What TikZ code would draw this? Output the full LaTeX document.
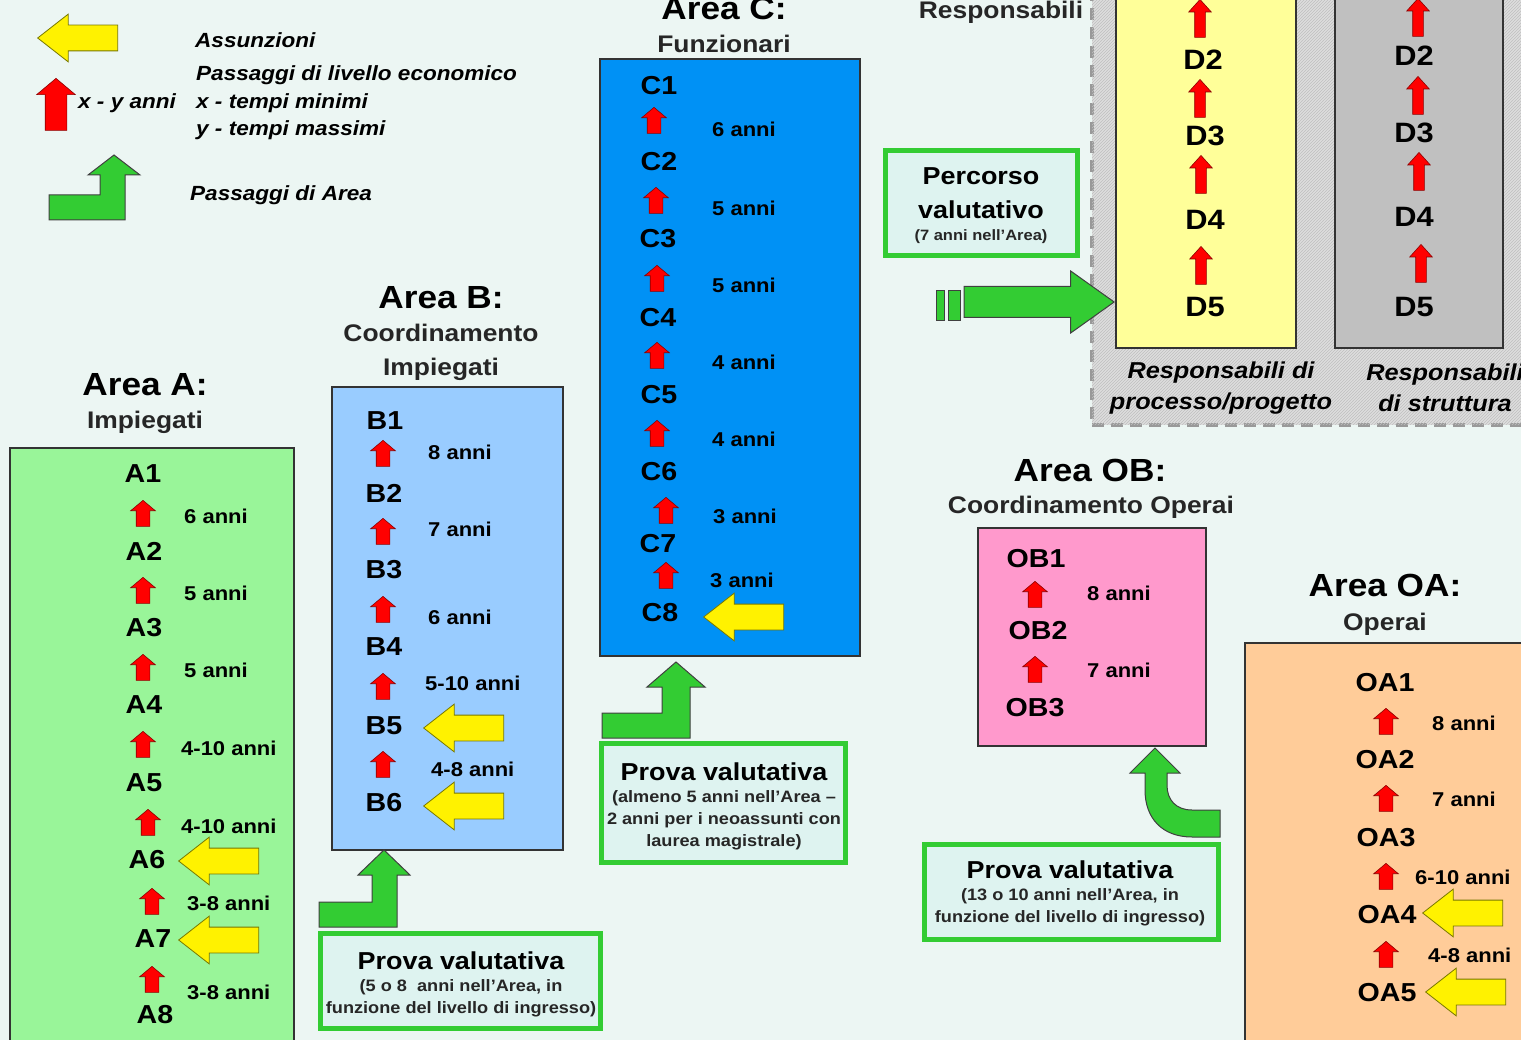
\documentclass[tikz,border=0pt]{standalone}
\usepackage{fontspec}
\setmainfont{Liberation Sans}[FakeStretch=1.1]
\usepackage{tikz}
\usetikzlibrary{shapes.arrows,patterns}
\definecolor{bgTint}{RGB}{236,246,243}
\definecolor{aFill}{RGB}{153,245,153}
\definecolor{bFill}{RGB}{153,204,255}
\definecolor{cFill}{RGB}{0,145,245}
\definecolor{obFill}{RGB}{255,153,204}
\definecolor{oaFill}{RGB}{255,204,153}
\definecolor{dYel}{RGB}{255,255,153}
\definecolor{dGray}{RGB}{192,192,192}
\definecolor{grnFill}{RGB}{51,204,51}
\definecolor{provaFill}{RGB}{222,243,240}
\definecolor{yelEdge}{RGB}{120,120,0}
\tikzset{
  lvBox/.style={draw=black!80,line width=1.4pt,inner sep=0pt},
  lvl/.style={font=\fontsize{26}{28}\selectfont\bfseries,inner sep=0pt},
  lvlD/.style={font=\fontsize{28}{30}\selectfont\bfseries,inner sep=0pt},
  yrs/.style={font=\fontsize{20}{22}\selectfont\bfseries,anchor=west,inner sep=0pt},
  hdA/.style={font=\fontsize{32}{34}\selectfont\bfseries,inner sep=0pt},
  hdS/.style={font=\fontsize{24}{26}\selectfont\bfseries,inner sep=0pt,text=black!85},
  % arrows are placed by their tip
  upR/.style={single arrow,rotate=90,anchor=tip,draw=red!55!black,fill=red,line width=.6pt,
        inner xsep=0pt,inner ysep=6.5pt,minimum height=26pt,
        single arrow head extend=5.5pt,single arrow tip angle=100},
  upD/.style={upR,minimum height=38pt,inner ysep=5pt,
        single arrow head extend=6pt,single arrow tip angle=84},
  inY/.style={single arrow,rotate=180,anchor=tip,draw=yelEdge,fill=yellow,line width=.8pt,
        inner xsep=0pt,inner ysep=12.5pt,minimum height=80pt,
        single arrow head extend=11pt,single arrow tip angle=76},
  grnArr/.style={draw=black!75,fill=grnFill,line width=1pt,line join=miter},
  provaBox/.style={draw=grnFill,line width=5pt,fill=provaFill,inner sep=0pt},
  pvT/.style={font=\fontsize{24.5}{34}\selectfont\bfseries,inner sep=0pt,align=center},
  pvS/.style={font=\fontsize{16.5}{22}\selectfont\bfseries,align=center,inner sep=0pt,text=black!85},
  lgd/.style={font=\fontsize{20.5}{27.5}\selectfont\bfseries\itshape,anchor=west,
        inner sep=0pt,align=left},
  resp/.style={font=\fontsize{23}{31}\selectfont\bfseries\itshape,align=center,inner sep=0pt},
}

\begin{document}
\begin{tikzpicture}[x=1pt,y=-1pt]
\useasboundingbox (0,0) rectangle (1521,1040);
\fill[bgTint] (0,0) rectangle (1521,1040);

% legenda
\node[inY] (lgY) at (37,38) {};
\node[lgd] (lgYt) at (195,40) {Assunzioni};
\node[upR,minimum height=52pt,inner ysep=10.5pt,single arrow head extend=8.5pt] (lgR) at (56,78) {};
\node[lgd] (lgRx) at (78,103) {x - y anni};
\node[lgd] (lgRt) at (196,103) {Passaggi di livello economico\\x - tempi minimi\\y - tempi massimi};
\draw[grnArr] (49,220) -- (49,195) -- (100,195) -- (100,175) -- (88,175) -- (114,155)
  -- (140,175) -- (125,175) -- (125,220) -- cycle;
\node[lgd] (lgGt) at (190,195) {Passaggi di Area};

% area A
\node[hdA] (hA) at (145,385) {Area A:};
\node[hdS] (sA) at (145,422) {Impiegati};
\node[lvBox,fill=aFill,minimum width=284pt,minimum height=612pt] (boxA) at (152,754) {};
\node[lvl] (a1) at (143,474) {A1};
\node[lvl] (a2) at (144,551) {A2};
\node[lvl] (a3) at (144,628) {A3};
\node[lvl] (a4) at (144,705) {A4};
\node[lvl] (a5) at (144,783) {A5};
\node[lvl] (a6) at (147,860) {A6};
\node[lvl] (a7) at (153,939) {A7};
\node[lvl] (a8) at (155,1015) {A8};
\node[upR] (ua1) at (143,500) {};
\node[upR] (ua2) at (143,577) {};
\node[upR] (ua3) at (143,654) {};
\node[upR] (ua4) at (143,731) {};
\node[upR] (ua5) at (148,809) {};
\node[upR] (ua6) at (152,888) {};
\node[upR] (ua7) at (152,966) {};
\node[yrs] (ta1) at (184,516) {6 anni};
\node[yrs] (ta2) at (184,593) {5 anni};
\node[yrs] (ta3) at (184,670) {5 anni};
\node[yrs] (ta4) at (181,748) {4-10 anni};
\node[yrs] (ta5) at (181,826) {4-10 anni};
\node[yrs] (ta6) at (187,903) {3-8 anni};
\node[yrs] (ta7) at (187,992) {3-8 anni};
\node[inY] (ya6) at (178,861) {};
\node[inY] (ya7) at (178,940) {};

% area B
\node[hdA] (hB) at (441,298) {Area B:};
\node[hdS,align=center,font=\fontsize{24}{34}\selectfont\bfseries] (sB) at (441,352) {Coordinamento\\Impiegati};
\node[lvBox,fill=bFill,minimum width=231pt,minimum height=463pt] (boxB) at (447.5,618.5) {};
\node[lvl] (b1) at (385,421) {B1};
\node[lvl] (b2) at (384,493) {B2};
\node[lvl] (b3) at (384,570) {B3};
\node[lvl] (b4) at (384,647) {B4};
\node[lvl] (b5) at (384,726) {B5};
\node[lvl] (b6) at (384,803) {B6};
\node[upR] (ub1) at (383,440) {};
\node[upR] (ub2) at (383,518) {};
\node[upR] (ub3) at (383,596) {};
\node[upR] (ub4) at (383,673) {};
\node[upR] (ub5) at (383,751) {};
\node[yrs] (tb1) at (428,452) {8 anni};
\node[yrs] (tb2) at (428,529) {7 anni};
\node[yrs] (tb3) at (428,617) {6 anni};
\node[yrs] (tb4) at (425,683) {5-10 anni};
\node[yrs] (tb5) at (431,769) {4-8 anni};
\node[inY] (yb5) at (423,728) {};
\node[inY] (yb6) at (423,806) {};

% area C
\node[hdA] (hC) at (724,8) {Area C:};
\node[hdS] (sC) at (724,44) {Funzionari};
\node[lvBox,fill=cFill,minimum width=260pt,minimum height=597pt] (boxC) at (730,357.5) {};
\node[lvl] (c1) at (659,86) {C1};
\node[lvl] (c2) at (659,162) {C2};
\node[lvl] (c3) at (658,239) {C3};
\node[lvl] (c4) at (658,318) {C4};
\node[lvl] (c5) at (659,395) {C5};
\node[lvl] (c6) at (659,472) {C6};
\node[lvl] (c7) at (658,544) {C7};
\node[lvl] (c8) at (660,613) {C8};
\node[upR] (uc1) at (654,107) {};
\node[upR] (uc2) at (656,187) {};
\node[upR] (uc3) at (657,265) {};
\node[upR] (uc4) at (657,342) {};
\node[upR] (uc5) at (657,420) {};
\node[upR] (uc6) at (666,497) {};
\node[upR] (uc7) at (666,562) {};
\node[yrs] (tc1) at (712,129) {6 anni};
\node[yrs] (tc2) at (712,208) {5 anni};
\node[yrs] (tc3) at (712,285) {5 anni};
\node[yrs] (tc4) at (712,362) {4 anni};
\node[yrs] (tc5) at (712,439) {4 anni};
\node[yrs] (tc6) at (713,516) {3 anni};
\node[yrs] (tc7) at (710,580) {3 anni};
\node[inY] (yc8) at (703,617) {};

% area D
\node[draw=black!40,line width=4pt,dash pattern=on 12pt off 7pt,fill=black!13,
  postaction={pattern=north east lines,pattern color=black!25},
  minimum width=448pt,minimum height=435pt,inner sep=0pt] (bandD) at (1316,207.5) {};
\node[hdS] (sD) at (1001,12) {Responsabili};
\node[lvBox,fill=dYel,minimum width=180pt,minimum height=353pt] (boxDp) at (1206,171.5) {};
\node[lvBox,fill=dGray,minimum width=168pt,minimum height=353pt] (boxDs) at (1419,171.5) {};
\node[lvlD] (dp2) at (1203,60) {D2};
\node[lvlD] (dp3) at (1205,136) {D3};
\node[lvlD] (dp4) at (1205,220) {D4};
\node[lvlD] (dp5) at (1205,307) {D5};
\node[upD] (udp1) at (1200,-1) {};
\node[upD] (udp2) at (1200,79) {};
\node[upD] (udp3) at (1201,155) {};
\node[upD] (udp4) at (1201,246) {};
\node[lvlD] (ds2) at (1414,56) {D2};
\node[lvlD] (ds3) at (1414,133) {D3};
\node[lvlD] (ds4) at (1414,217) {D4};
\node[lvlD] (ds5) at (1414,307) {D5};
\node[upD] (uds1) at (1418,-2) {};
\node[upD] (uds2) at (1418,76) {};
\node[upD] (uds3) at (1419,152) {};
\node[upD] (uds4) at (1421,244) {};
\node[resp] (rp) at (1221,388) {Responsabili di\\processo/progetto};
\node[resp] (rs) at (1445,388) {Responsabili\\di struttura};

% percorso valutativo
\node[provaBox,minimum width=192pt,minimum height=105pt] (pvD) at (981.5,203) {};
\node[pvT] (pvDt) at (981,193) {Percorso\\valutativo};
\node[pvS,font=\fontsize{15}{18}\selectfont\bfseries] (pvDs) at (981,237) {(7 anni nell’Area)};
\draw[grnArr,line width=.6pt] (936,290) rectangle (944,320);
\draw[grnArr,line width=.6pt] (948,290) rectangle (960,320);
\node[single arrow,anchor=tip,draw=black!75,fill=grnFill,line width=1pt,inner xsep=0pt,
  inner ysep=15pt,minimum height=150pt,single arrow head extend=15.5pt,
  single arrow tip angle=71] (toD) at (1115,302) {};

% area OB
\node[hdA] (hOB) at (1090,470) {Area OB:};
\node[hdS] (sOB) at (1091,507) {Coordinamento Operai};
\node[lvBox,fill=obFill,minimum width=228pt,minimum height=218pt] (boxOB) at (1092,637) {};
\node[lvl] (ob1) at (1036,559) {OB1};
\node[lvl] (ob2) at (1038,631) {OB2};
\node[lvl] (ob3) at (1035,708) {OB3};
\node[upR] (uob1) at (1035,581) {};
\node[upR] (uob2) at (1035,656) {};
\node[yrs] (tob1) at (1087,593) {8 anni};
\node[yrs] (tob2) at (1087,670) {7 anni};

% area OA
\node[hdA] (hOA) at (1385,585) {Area OA:};
\node[hdS] (sOA) at (1385,624) {Operai};
\node[lvBox,fill=oaFill,minimum width=290pt,minimum height=417pt] (boxOA) at (1390,851.5) {};
\node[lvl] (oa1) at (1385,683) {OA1};
\node[lvl] (oa2) at (1385,760) {OA2};
\node[lvl] (oa3) at (1386,838) {OA3};
\node[lvl] (oa4) at (1387,915) {OA4};
\node[lvl] (oa5) at (1387,993) {OA5};
\node[upR] (uoa1) at (1386,708) {};
\node[upR] (uoa2) at (1386,785) {};
\node[upR] (uoa3) at (1386,863) {};
\node[upR] (uoa4) at (1386,941) {};
\node[yrs] (toa1) at (1432,723) {8 anni};
\node[yrs] (toa2) at (1432,799) {7 anni};
\node[yrs] (toa3) at (1415,877) {6-10 anni};
\node[yrs] (toa4) at (1428,955) {4-8 anni};
\node[inY] (yoa4) at (1422,913) {};
\node[inY] (yoa5) at (1425,992) {};

% prove valutative
\node[provaBox,minimum width=280pt,minimum height=95pt] (pvB) at (460.5,981) {};
\node[pvT] (pvBt) at (461,961) {Prova valutativa};
\node[pvS] (pvBs) at (461,998) {(5 o 8~~anni nell’Area, in\\funzione del livello di ingresso)};
\draw[grnArr] (319,927) -- (319,902) -- (372,902) -- (372,875) -- (358,875) -- (384,850)
  -- (410,875) -- (397,875) -- (397,927) -- cycle;

\node[provaBox,minimum width=244pt,minimum height=119pt] (pvC) at (723.5,803) {};
\node[pvT] (pvCt) at (724,772) {Prova valutativa};
\node[pvS] (pvCs) at (724,820) {(almeno 5 anni nell’Area –\\2 anni per i neoassunti con\\laurea magistrale)};
\draw[grnArr] (602,738) -- (602,713) -- (662,713) -- (662,687) -- (647,687) -- (676,662)
  -- (705,687) -- (690,687) -- (690,738) -- cycle;

\node[provaBox,minimum width=294pt,minimum height=95pt] (pvOB) at (1071.5,892) {};
\node[pvT] (pvOBt) at (1070,870) {Prova valutativa};
\node[pvS] (pvOBs) at (1070,907) {(13 o 10 anni nell’Area, in\\funzione del livello di ingresso)};
\draw[grnArr] (1220,810) -- (1192,810) .. controls (1176,810) and (1167,800) .. (1167,785)
  -- (1167,773) -- (1180,773) -- (1155,748) -- (1130,773) -- (1145,773) -- (1145,790)
  .. controls (1145,818) and (1162,837) .. (1192,837) -- (1220,837) -- cycle;
\end{tikzpicture}
\end{document}
